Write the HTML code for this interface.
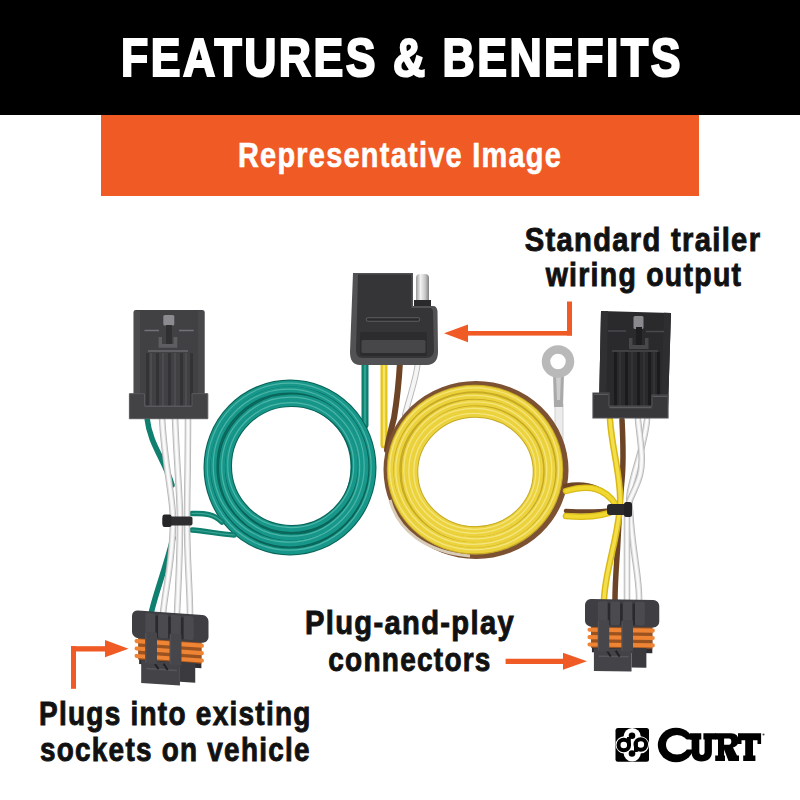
<!DOCTYPE html>
<html><head><meta charset="utf-8">
<style>
html,body{margin:0;padding:0;width:800px;height:800px;overflow:hidden;background:#fff;}
body{position:relative;font-family:"Liberation Sans",sans-serif;font-weight:bold;}
.band{position:absolute;left:0;top:0;width:800px;height:115px;background:#000;}
.obox{position:absolute;left:101px;top:115px;width:598px;height:81px;background:#F05A25;}
.t{position:absolute;white-space:nowrap;line-height:1;}
#title{-webkit-text-stroke:2.2px #fff;letter-spacing:3px;left:1.5px;width:800px;text-align:center;top:30.7px;font-size:53.5px;color:#fff;transform:scaleX(0.8333);transform-origin:400px 0;}
#rep{-webkit-text-stroke:0.6px #fff;letter-spacing:1.5px;left:0;width:800px;text-align:center;top:138.3px;font-size:34.3px;color:#fff;transform:scaleX(0.843);transform-origin:400px 0;}
.c{-webkit-text-stroke:0.9px #111;color:#111;font-size:33.2px;letter-spacing:1.5px;}
svg{position:absolute;left:0;top:0;}
</style></head>
<body>
<div class="band"></div>
<div class="obox"></div>
<div class="t" id="title">FEATURES &amp; BENEFITS</div>
<div class="t" id="rep">Representative Image</div>

<svg width="800" height="800" viewBox="0 0 800 800">
<defs>
 <linearGradient id="pinG" x1="0" x2="1" y1="0" y2="0">
  <stop offset="0" stop-color="#9a9a9a"/><stop offset="0.35" stop-color="#f2f2f2"/><stop offset="0.7" stop-color="#c8c8c8"/><stop offset="1" stop-color="#808080"/>
 </linearGradient>
</defs>
<!-- middle wires -->
<g fill="none" stroke-linecap="round">
 <path d="M365,362 L365,425" stroke="#0d7d6e" stroke-width="7"/>
 <path d="M365,362 L365,425" stroke="#2fa292" stroke-width="2.5"/>
 <path d="M384,362 L384,445" stroke="#e3c41a" stroke-width="7"/>
 <path d="M384,362 L384,445" stroke="#f6e467" stroke-width="2.5"/>
 <path d="M400,362 C399,380 397,400 394,418 C391,430 388,440 387,450" stroke="#6e4426" stroke-width="6"/>
 <path d="M418,362 C416,380 410,395 405,415" stroke="#b9b9b9" stroke-width="6"/>
 <path d="M418,362 C416,380 410,395 405,415" stroke="#f5f5f5" stroke-width="4"/>
</g>
<!-- ring terminal -->
<g>
 <path d="M555,404 L555,445 L563,445 L563,404 Z" fill="#ececec" stroke="#cfcfcf" stroke-width="1"/>
 <path d="M553,373 L564,373 L563,407 L554,407 Z" fill="#a9a9a9"/>
 <path d="M556,375 L561,375 L560,400 L557,400 Z" fill="#cdcdcd"/>
 <circle cx="558" cy="361.5" r="12" fill="none" stroke="#b9b9b9" stroke-width="8.5"/>
</g>
<!-- green coil -->
<g fill="none">
 <ellipse cx="290.5" cy="467" rx="72.5" ry="73.5" stroke="#0c6f64" stroke-width="25"/>
 <ellipse cx="290" cy="467.5" rx="82.5" ry="84" stroke="#0a6458" stroke-width="8"/>
 <ellipse cx="289.5" cy="466.5" rx="76" ry="77" stroke="#0a6458" stroke-width="8"/>
 <ellipse cx="291.5" cy="467.5" rx="69.5" ry="70" stroke="#0a6458" stroke-width="8"/>
 <ellipse cx="291.5" cy="466" rx="63.5" ry="63" stroke="#0a6458" stroke-width="8"/>
 <ellipse cx="290" cy="467.5" rx="82.5" ry="84" stroke="#17968a" stroke-width="5.8"/>
 <ellipse cx="289.5" cy="466.5" rx="76" ry="77" stroke="#17968a" stroke-width="5.8"/>
 <ellipse cx="291.5" cy="467.5" rx="69.5" ry="70" stroke="#17968a" stroke-width="5.8"/>
 <ellipse cx="291.5" cy="466" rx="63.5" ry="63" stroke="#17968a" stroke-width="5.8"/>
 <ellipse cx="289.2" cy="466.7" rx="82.0" ry="83.5" stroke="#6fcbbb" stroke-width="1.2" opacity="0.6"/>
 <ellipse cx="288.7" cy="465.7" rx="75.5" ry="76.5" stroke="#6fcbbb" stroke-width="1.2" opacity="0.6"/>
 <ellipse cx="290.7" cy="466.7" rx="69.0" ry="69.5" stroke="#6fcbbb" stroke-width="1.2" opacity="0.6"/>
 <ellipse cx="290.7" cy="465.2" rx="63.0" ry="62.5" stroke="#6fcbbb" stroke-width="1.2" opacity="0.6"/>
</g>
<!-- yellow coil -->
<g fill="none">
 <ellipse cx="476" cy="470" rx="89.5" ry="86" stroke="#7d5233" stroke-width="6"/>
 <path d="M390,500 C398,530 425,552 470,556" stroke="#d8ccb8" stroke-width="3"/>
 <ellipse cx="475.5" cy="471" rx="73" ry="69.5" stroke="#cdb22a" stroke-width="28"/>
 <ellipse cx="475" cy="469.5" rx="84.5" ry="81" stroke="#c6aa24" stroke-width="7.5"/>
 <ellipse cx="474.5" cy="470.5" rx="78" ry="74.5" stroke="#c6aa24" stroke-width="7.5"/>
 <ellipse cx="476" cy="471" rx="71.5" ry="68.5" stroke="#c6aa24" stroke-width="7.5"/>
 <ellipse cx="475" cy="471.5" rx="65.5" ry="62.5" stroke="#c6aa24" stroke-width="7.5"/>
 <ellipse cx="475.5" cy="472" rx="61" ry="58" stroke="#c6aa24" stroke-width="7.5"/>
 <ellipse cx="475" cy="469.5" rx="84.5" ry="81" stroke="#ecd33e" stroke-width="5.5"/>
 <ellipse cx="474.5" cy="470.5" rx="78" ry="74.5" stroke="#ecd33e" stroke-width="5.5"/>
 <ellipse cx="476" cy="471" rx="71.5" ry="68.5" stroke="#ecd33e" stroke-width="5.5"/>
 <ellipse cx="475" cy="471.5" rx="65.5" ry="62.5" stroke="#ecd33e" stroke-width="5.5"/>
 <ellipse cx="475.5" cy="472" rx="61" ry="58" stroke="#ecd33e" stroke-width="5.5"/>
 <ellipse cx="474.3" cy="468.8" rx="84.5" ry="81" stroke="#f8ec98" stroke-width="1.3" opacity="0.7"/>
 <ellipse cx="473.8" cy="469.8" rx="78" ry="74.5" stroke="#f8ec98" stroke-width="1.3" opacity="0.7"/>
 <ellipse cx="475.3" cy="470.3" rx="71.5" ry="68.5" stroke="#f8ec98" stroke-width="1.3" opacity="0.7"/>
 <ellipse cx="474.3" cy="470.8" rx="65.5" ry="62.5" stroke="#f8ec98" stroke-width="1.3" opacity="0.7"/>
 <ellipse cx="474.8" cy="471.3" rx="61" ry="58" stroke="#f8ec98" stroke-width="1.3" opacity="0.7"/>
</g>
<!-- left bundle -->
<g fill="none" stroke-linecap="round">
 <path d="M192,513.5 C205,513 214,514 222,522" stroke="#0f8070" stroke-width="5.5"/>
 <path d="M192,513.5 C205,513 214,514 222,522" stroke="#3aa595" stroke-width="1.2"/>
 <path d="M192,530 C205,531 220,534 234,535" stroke="#0f8070" stroke-width="5.5"/>
 <path d="M192,530 C205,531 220,534 234,535" stroke="#3aa595" stroke-width="1.2"/>
 <path d="M147,418 C150,445 165,460 172,485" stroke="#0f8070" stroke-width="5.5"/>
 <path d="M173,538 C165,570 155,595 151,614" stroke="#0f8070" stroke-width="5.5"/>
 <path d="M162,418 C165,470 173,495 173,520 C173,560 165,590 163,614" stroke="#b5b5b5" stroke-width="6.5"/>
 <path d="M162,418 C165,470 173,495 173,520 C173,560 165,590 163,614" stroke="#dedede" stroke-width="4.8"/>
 <path d="M162,418 C165,470 173,495 173,520 C173,560 165,590 163,614" stroke="#fafafa" stroke-width="2.6"/>
 <path d="M175,418 C177,470 180,495 180,520 C180,560 178,590 177,614" stroke="#b5b5b5" stroke-width="6.5"/>
 <path d="M175,418 C177,470 180,495 180,520 C180,560 178,590 177,614" stroke="#dedede" stroke-width="4.8"/>
 <path d="M175,418 C177,470 180,495 180,520 C180,560 178,590 177,614" stroke="#fafafa" stroke-width="2.6"/>
 <path d="M188,418 C188,470 187,495 187,520 C187,560 190,590 190,614" stroke="#b5b5b5" stroke-width="6.5"/>
 <path d="M188,418 C188,470 187,495 187,520 C187,560 190,590 190,614" stroke="#dedede" stroke-width="4.8"/>
 <path d="M188,418 C188,470 187,495 187,520 C187,560 190,590 190,614" stroke="#fafafa" stroke-width="2.6"/>
</g>
<rect x="162.5" y="516.5" width="30" height="9" rx="2" fill="#2e2e30"/>
<rect x="162.5" y="514.5" width="9" height="12.5" rx="2" fill="#262628"/>
<!-- right bundle -->
<g fill="none" stroke-linecap="round">
 <path d="M565,486 C585,482 600,486 612,500" stroke="#6e4426" stroke-width="4.5"/>
 <path d="M566,511 C585,512 600,512 612,510" stroke="#6e4426" stroke-width="4.5"/>
 <path d="M566,491 C590,484 605,488 616,505" stroke="#d9bb18" stroke-width="6.5"/>
 <path d="M566,491 C590,484 605,488 616,505" stroke="#f0d82e" stroke-width="4"/>
 <path d="M566,516 C590,518 605,516 616,510" stroke="#d9bb18" stroke-width="6.5"/>
 <path d="M566,516 C590,518 605,516 616,510" stroke="#f0d82e" stroke-width="4"/>
 <path d="M647,420 C645,440 638,460 634,475 C630,490 628,498 630,510 C632,550 640,580 639,600" stroke="#b5b5b5" stroke-width="6.5"/>
 <path d="M647,420 C645,440 638,460 634,475 C630,490 628,498 630,510 C632,550 640,580 639,600" stroke="#dedede" stroke-width="4.8"/>
 <path d="M647,420 C645,440 638,460 634,475 C630,490 628,498 630,510 C632,550 640,580 639,600" stroke="#fafafa" stroke-width="2.6"/>
 <path d="M638,420 C640,440 644,460 640,475 C636,490 628,500 627,510 C627,550 627,580 627,600" stroke="#b5b5b5" stroke-width="6.5"/>
 <path d="M638,420 C640,440 644,460 640,475 C636,490 628,500 627,510 C627,550 627,580 627,600" stroke="#dedede" stroke-width="4.8"/>
 <path d="M638,420 C640,440 644,460 640,475 C636,490 628,500 627,510 C627,550 627,580 627,600" stroke="#fafafa" stroke-width="2.6"/>
 <path d="M622,420 C623,440 624,460 622,480 C620,500 619,520 618,540 C617,560 615,580 615,600" stroke="#6e4426" stroke-width="5.5"/>
 <path d="M610,420 C612,450 622,480 620,505 C618,540 605,570 604,600" stroke="#d9b915" stroke-width="6.5"/>
 <path d="M610,420 C612,450 622,480 620,505 C618,540 605,570 604,600" stroke="#f4df4a" stroke-width="3.5"/>
</g>
<rect x="607" y="504" width="24" height="11" rx="3" fill="#2a2a2c"/>
<rect x="624" y="502" width="8" height="15" rx="2.5" fill="#222224"/>
<!-- TL connector -->
<g>
 <path d="M133.5,312 Q133.5,310 136,310 H202 Q204.7,310 204.7,312 V408 H133.5 Z" fill="#414144"/>
 <rect x="134" y="311" width="6" height="96" fill="#4b4b4e"/>
 <rect x="198" y="311" width="6" height="96" fill="#48484b"/>
 <g fill="#333336"><rect x="146" y="353" width="3" height="53"/><rect x="156" y="353" width="3" height="53"/><rect x="168" y="353" width="3" height="53"/><rect x="180" y="353" width="3" height="53"/><rect x="190" y="353" width="3" height="53"/></g>
 <g fill="#4c4c50"><rect x="150" y="353" width="2" height="53"/><rect x="162" y="353" width="2" height="53"/><rect x="174" y="353" width="2" height="53"/><rect x="185" y="353" width="2" height="53"/></g>
 <path d="M144.5,330.5 H159 M179,330.5 H193.7" stroke="#737377" stroke-width="1.6"/>
 <path d="M148,351 H188" stroke="#6a6a6e" stroke-width="1.5"/>
 <rect x="163.3" y="315" width="11" height="10.5" rx="1.5" fill="#8c8c90"/>
 <rect x="166" y="325" width="6" height="20" fill="#303033"/>
 <path d="M158.6,337 H162 V344 H173.5 V337 H177.3 V347.7 H158.6 Z" fill="#5e5e62"/>
 <path d="M129.4,393.7 H144.5 V406 H192 V393.7 H207.8 V418.7 H129.4 Z" fill="#434346" stroke="#59595d" stroke-width="1"/>
 <path d="M145,406.5 H191.5" stroke="#5a5a5e" stroke-width="1.2"/>
</g>
<!-- middle flat connector -->
<g>
 <rect x="416" y="274" width="13" height="30" rx="4" fill="url(#pinG)"/>
 <rect x="414" y="300" width="17" height="8" fill="#2a2a2c"/>
 <path d="M353,273 H413 V306 H433 C436,306 437,308 437.5,311 L438,352 C438,360 434,365 427,365 H360 C353,365 350,360 350,352 Z" fill="#525255"/>
 <path d="M358,274.5 H411.5 V308 H430 C432,308 433,310 433,312 L434,350 C434,355 431,358 426,358 H363 C358,358 356,355 356,350 Z" fill="#353538"/>
 <path d="M368,319.5 H418" stroke="#5e5e62" stroke-width="4.5" stroke-linecap="round"/>
 <path d="M368,319.5 H418" stroke="#2a2a2d" stroke-width="2.5" stroke-linecap="round"/>
 <rect x="360" y="332" width="67" height="24" rx="2" fill="#2c2c2f"/>
 <rect x="361.5" y="340" width="64" height="13" rx="1.5" fill="#47474a"/>
</g>
<!-- TR connector -->
<g>
 <path d="M601,311 L671,313 L668,408 L599,406 Z" fill="#2a2a2d"/>
 <path d="M601,311 L608,311.2 L606,406.2 L599,406 Z" fill="#303033"/>
 <path d="M664,312.8 L671,313 L668,408 L661,407.8 Z" fill="#2e2e31"/>
 <g fill="#1b1b1d"><rect x="614" y="352" width="3" height="54"/><rect x="625" y="352" width="3" height="54"/><rect x="637" y="352" width="3" height="54"/><rect x="648" y="352" width="3" height="54"/><rect x="657" y="352" width="3" height="54"/></g>
 <g fill="#333336"><rect x="619" y="352" width="2" height="54"/><rect x="631" y="352" width="2" height="54"/><rect x="643" y="352" width="2" height="54"/><rect x="653" y="352" width="2" height="54"/></g>
 <path d="M608,331 H626 M646,331.5 H664" stroke="#4a4a4d" stroke-width="1.5"/>
 <path d="M612,351 H658" stroke="#48484b" stroke-width="1.3"/>
 <rect x="633.5" y="316" width="10" height="13" rx="1.5" fill="#8a8a8e"/>
 <rect x="636" y="327" width="6" height="18" fill="#1e1e20"/>
 <path d="M629,338 H632.5 V345 H645 V338 H648.5 V349 H629 Z" fill="#48484b"/>
 <path d="M593,393 H609 V406 H652 V395 H668 V418 H593 Z" fill="#38383b" stroke="#515154" stroke-width="1.2"/>
 <path d="M609.5,407.5 H651.5" stroke="#5c5c60" stroke-width="1.3"/>
 <path d="M594,394.5 H608 M653,396.5 H667" stroke="#5c5c60" stroke-width="1.2"/>
</g>
<defs>
<g id="plug">
 <rect x="7" y="24" width="61" height="30" fill="#2e2e32"/>
 <rect x="6" y="27.5" width="62" height="22" fill="#9a5220"/>
 <rect x="2.5" y="29" width="68" height="4.2" rx="2" fill="#ee8434"/>
 <rect x="2.5" y="36.5" width="68" height="4.2" rx="2" fill="#ee8434"/>
 <rect x="2.5" y="44" width="68" height="4.2" rx="2" fill="#ee8434"/>
 <path d="M9,50 H47 V73 H9 Z" fill="#434348"/>
 <path d="M47,49 H62 V69 H47 Z" fill="#3a3a3f"/>
 <path d="M14,58 H44" stroke="#56565b" stroke-width="1.5"/>
 <path d="M22,52 L26,58 M31,52 L35,58" stroke="#222225" stroke-width="2"/>
 <rect x="0" y="0" width="75" height="28" rx="6" fill="#3e3e43"/>
 <g fill="#4a4a4f"><rect x="13" y="2" width="10" height="24" rx="2"/><rect x="25.5" y="2" width="10" height="24" rx="2"/><rect x="38" y="2" width="10" height="24" rx="2"/><rect x="50.5" y="2" width="10" height="24" rx="2"/></g>
 <g fill="#2a2a2d"><rect x="23" y="4" width="2.5" height="22"/><rect x="35.5" y="4" width="2.5" height="22"/><rect x="48" y="4" width="2.5" height="22"/></g>
 <rect x="13" y="21" width="11.5" height="32" rx="1" fill="#46464b"/>
 <rect x="37" y="21" width="11.5" height="32" rx="1" fill="#46464b"/>
 <path d="M13.5,22 V52 M37.5,22 V52" stroke="#55555a" stroke-width="1"/>
</g>
</defs>
<use href="#plug" transform="translate(132,610) skewY(4) scale(1.02,0.99)"/>
<use href="#plug" transform="translate(585,599) skewY(0.8) scale(0.99,0.985)"/>
<!-- arrows -->
<g fill="#F05A25">
 <rect x="567" y="301.5" width="5" height="34"/>
 <rect x="467" y="331" width="105" height="4.6"/>
 <polygon points="444,333.3 468,324.5 468,342.2"/>
 <rect x="71" y="646.2" width="5" height="42.6"/>
 <rect x="71" y="646.2" width="35" height="5.3"/>
 <polygon points="105,640 105,657.3 128.5,648.8"/>
 <rect x="505.6" y="658.75" width="58" height="5.25"/>
 <polygon points="563,652.75 563,669.75 587,661.25"/>
</g>
<!-- CURT logo -->
<g>
 <rect x="615.5" y="728" width="33.5" height="33.7" rx="2.5" fill="#000"/>
 <g fill="#fff"><circle cx="632.2" cy="736.6" r="8.6"/><circle cx="632.2" cy="753" r="8.6"/><circle cx="624.2" cy="744.8" r="8.6"/><circle cx="640.4" cy="744.8" r="8.6"/></g>
 <circle cx="623.8" cy="745" r="5.3" fill="none" stroke="#000" stroke-width="4"/>
 <circle cx="640.8" cy="744.5" r="5.3" fill="none" stroke="#000" stroke-width="4"/>
 <circle cx="632" cy="735.7" r="3.3" fill="#000"/>
 <circle cx="632" cy="753.5" r="3.3" fill="#000"/>
 <rect x="627" y="737" width="3.8" height="9" fill="#000"/>
 <rect x="634" y="743" width="3.8" height="9" fill="#000"/>
 <ellipse cx="676" cy="745" rx="18.2" ry="17.2" fill="#000"/>
 <ellipse cx="677" cy="744.75" rx="11" ry="9.75" fill="#fff"/>
 <rect x="677" y="739.5" width="16" height="10" fill="#fff"/>
 <path d="M690,733.3 H701.3 V739.4 H699.3 V752 C699.3,754 700.5,755 702,755 C703.5,755 704.6,754 704.6,752 V739.4 H703.4 V733.3 H716 V739.4 H711.9 V752 C711.9,758 708,761.4 701.5,761.4 C695,761.4 691.6,758 691.6,752 V739.4 H690 Z" fill="#000"/>
 <path d="M715.2,733.3 H731 C736,733.3 738.7,736.5 738.7,740.5 C738.7,744 736.5,746.5 733,747.5 L737,755.5 H739 V761 H728.5 L724.1,749.5 V755.5 H725 V761 H715.2 V755.5 H718 V739.4 H715.2 Z M724.1,738.6 H729 C730.5,738.6 731.3,739.8 731.3,741.6 C731.3,743.5 730.5,744.7 729,744.7 H724.1 Z" fill="#000" fill-rule="evenodd"/>
 <path d="M738,733.3 H761.1 V744 H757.5 V740.3 H753 V755.5 H755.4 V761 H743.2 V755.5 H745.2 V740.3 H741.5 V744 H738 Z" fill="#000"/>
 <circle cx="763.5" cy="734.5" r="1.1" fill="#555"/>
</g>
</svg>

<div class="t c" id="st1" style="left:442.90px;width:400px;text-align:center;top:222.5px;transform:scaleX(0.8788);transform-origin:200px 0">Standard trailer</div>
<div class="t c" id="st2" style="left:443.75px;width:400px;text-align:center;top:258px;transform:scaleX(0.8562);transform-origin:200px 0">wiring output</div>
<div class="t c" id="pp1" style="left:209.50px;width:400px;text-align:center;top:606px;transform:scaleX(0.8793);transform-origin:200px 0">Plug-and-play</div>
<div class="t c" id="pp2" style="left:210.00px;width:400px;text-align:center;top:643px;transform:scaleX(0.8428);transform-origin:200px 0">connectors</div>
<div class="t c" id="pl1" style="left:39.34px;top:697px;transform:scaleX(0.8426);transform-origin:0 0">Plugs into existing</div>
<div class="t c" id="pl2" style="left:39.63px;top:733px;transform:scaleX(0.8405);transform-origin:0 0">sockets on vehicle</div>
</body></html>
